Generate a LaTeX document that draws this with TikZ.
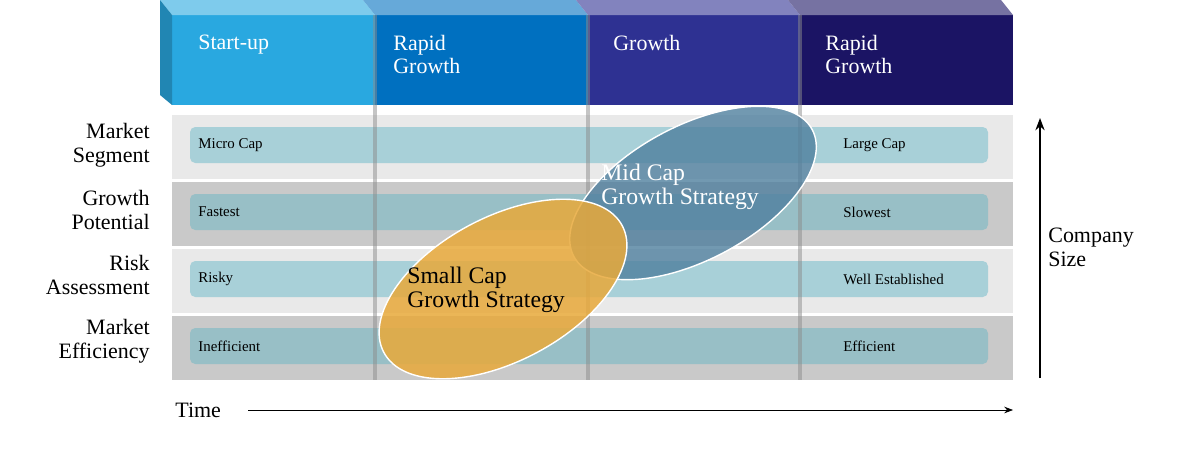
\documentclass[tikz,border=0pt]{standalone}
\usepackage{fontspec}
\setmainfont{Liberation Serif}
\usetikzlibrary{arrows.meta}
\definecolor{cStart}{HTML}{29A8E0}
\definecolor{cRapid}{HTML}{0070C0}
\definecolor{cGrowth}{HTML}{2E3192}
\definecolor{cLate}{HTML}{1B1464}
\definecolor{bandLight}{HTML}{E9E9E9}
\definecolor{bandDark}{HTML}{C9C9C9}
\definecolor{barLight}{HTML}{A8D0D8}
\definecolor{barDark}{HTML}{98BFC6}
\definecolor{midCap}{HTML}{4F7F9E}
\definecolor{smallCap}{HTML}{E8A93A}
\tikzset{
  headtxt/.style={anchor=north west,text=white,font=\fontsize{12.5}{13}\selectfont,align=left,inner sep=0pt},
  rowtxt/.style={anchor=east,font=\fontsize{12.5}{13.5}\selectfont,align=right,inner sep=0pt},
  bartxt/.style={anchor=west,font=\fontsize{8.5}{9}\selectfont,inner sep=0pt},
  captxt/.style={font=\fontsize{13.5}{13.5}\selectfont,align=left,inner sep=0pt}
}
\begin{document}
\begin{tikzpicture}[x=0.02cm,y=-0.02cm]
  \useasboundingbox (0,0) rectangle (1200,453);
  % header
  \foreach \xa/\xb/\col in {172/375/cStart,375/588/cRapid,588/800/cGrowth,800/1013/cLate}{
    \fill[\col] (\xa,15) rectangle (\xb,105);
    \fill[\col!60!white] (\xa-12,0) -- (\xb-12,0) -- (\xb,15) -- (\xa,15) -- cycle;
  }
  \fill[cStart!80!black] (160,0) -- (172,15) -- (172,105) -- (160,95) -- cycle;
  \node[headtxt] (h1) at (198,35) {Start-up};
  \node[headtxt] (h2) at (393,35) {Rapid\\Growth};
  \node[headtxt] (h3) at (613,35) {Growth};
  \node[headtxt] (h4) at (825,35) {Rapid\\Growth};
  % rows
  \foreach \ya/\band/\bar/\lt/\rt [count=\i] in
    {115/bandLight/barLight/Micro Cap/Large Cap,
     182/bandDark/barDark/Fastest/Slowest,
     249/bandLight/barLight/Risky/Well Established,
     316/bandDark/barDark/Inefficient/Efficient}{
    \fill[\band] (172,\ya) rectangle (1013,\ya+64);
    \fill[\bar,rounded corners=3pt] (190,\ya+12) rectangle (988,\ya+48);
    \node[bartxt] (l\i) at (198,\ya+30) {\lt};
    \node[bartxt] (r\i) at (843,\ya+30) {\rt};
  }
  \foreach \x in {375,588,800}
    \fill[black!45,opacity=0.5] (\x-2,15) rectangle (\x+2,380);
  \node[rowtxt] (m1) at (150,145) {Market\\Segment};
  \node[rowtxt] (m2) at (150,210) {Growth\\Potential};
  \node[rowtxt] (m3) at (150,275) {Risk\\Assessment};
  \node[rowtxt] (m4) at (150,341) {Market\\Efficiency};
  % ellipses
  \draw[white,fill=midCap,fill opacity=0.8,thick,rotate around={28:(693,193)}]
    (693,193) ellipse [x radius=135,y radius=67];
  \draw[white,fill=smallCap,fill opacity=0.85,thick,rotate around={28:(503,289)}]
    (503,289) ellipse [x radius=135,y radius=72];
  \node[captxt,anchor=west,text=white] (mid) at (601,187) {Mid Cap\\Growth Strategy};
  \node[captxt,anchor=west] (small) at (407,290) {Small Cap\\Growth Strategy};
  % axes
  \coordinate (sb) at (1040,378);
  \coordinate (st) at (1040,118);
  \draw[-{Stealth[length=7pt]},thick] (sb) -- (st);
  \node[anchor=west,font=\fontsize{12.5}{13.5}\selectfont,align=left,inner sep=0pt] (size) at (1048,247) {Company\\Size};
  \node[anchor=west,font=\fontsize{12.5}{13}\selectfont,inner sep=0pt] (time) at (175,410) {Time};
  \coordinate (te) at (1013,410);
  \draw[-{Stealth[length=5pt]}] (248,410) -- (te);
\end{tikzpicture}
\end{document}
